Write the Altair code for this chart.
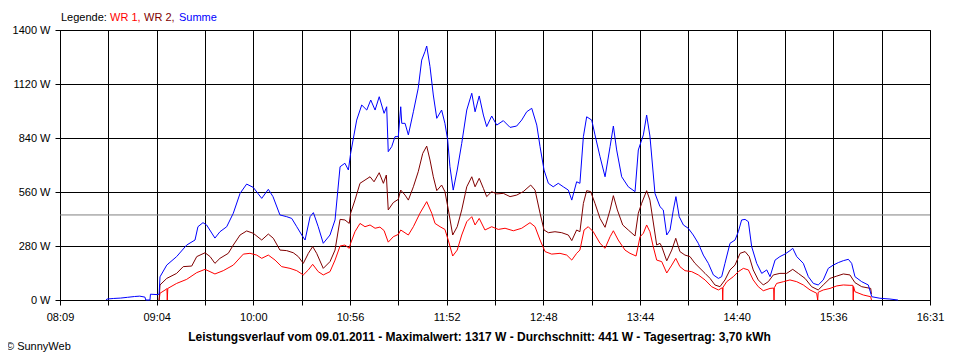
import altair as alt
import pandas as pd

# ---- data (time in minutes since midnight, power in W) ----
summe_t = [515.5, 516.1, 520, 524, 528, 532, 535, 538.0, 538.5, 540.9,
           541.2, 545.0, 546.2, 546.7, 550.6, 556.3, 562.1, 566.9, 568.6, 571.5,
           573.6, 578.4, 581.3, 585.2, 589.0, 592.9, 596.7, 600.5, 605.4, 609.2,
           611.9, 615.9, 619.8, 622.7, 625.6, 628.5, 630.4, 633.3, 635.2, 638.0,
           640.9, 644.8, 647.7, 650.6, 653.4, 655.4, 656.7, 660.2, 663.1, 666.0,
           668.3, 670.8, 673.2, 676.0, 677.5, 678.4, 680.4, 682.3, 684.2, 685.6,
           686.2, 688.1, 690.0, 692.9, 695.7, 697.7, 699.6, 700.6, 702.5, 704.4,
           706.4, 709.2, 711.1, 712.7, 714.0, 715.9, 718.2, 720.8, 723.7, 726.6,
           728.5, 730.9, 733.3, 735.2, 738.1, 741.0, 744.8, 748.7, 752.5, 755.4,
           758.3, 761.2, 764.1, 766.0, 768.3, 770.8, 773.6, 776.5, 779.4, 782.3,
           784.3, 787.1, 789.0, 791.0, 792.9, 795.8, 797.7, 800.6, 803.5, 806.4,
           808.3, 810.2, 813.1, 816.9, 820.8, 822.7, 825.6, 827.5, 829.4, 832.3,
           835.2, 837.1, 839.1, 841.0, 842.9, 844.4, 846.3, 848.7, 851.5, 854.4,
           857.3, 860.2, 863.1, 866.0, 868.9, 870.8, 872.7, 875.6, 878.5, 880.4,
           882.3, 884.3, 886.2, 888.1, 891.0, 893.9, 896.8, 898.7, 901.6, 904.4,
           907.3, 910.2, 911.8, 914.1, 917.9, 920.8, 923.7, 926.5, 929.4, 932.3,
           935.2, 938.1, 941.0, 943.9, 945.8, 947.7, 951.6, 955.4, 957.4, 962.1,
           967.9, 972.5]
summe_w = [0, 5, 8, 10, 14, 18, 20, 15, 0, 0,
           30, 28, 30, 120, 181, 225, 285, 311, 380, 401,
           389, 321, 354, 380, 450, 553, 601, 584, 527, 574,
           536, 441, 432, 423, 380, 337, 311, 432, 453, 380,
           294, 337, 415, 691, 709, 674, 760, 933, 1011, 985,
           1037, 985, 1054, 968, 1002, 769, 795, 847, 847, 1002,
           916, 916, 856, 976, 1098, 1244, 1288, 1317, 1210, 1063,
           942, 985, 916, 830, 691, 570, 674, 812, 985, 1072,
           976, 1058, 959, 899, 954, 907, 930, 895, 902, 933,
           976, 994, 907, 795, 674, 605, 587, 605, 587, 570,
           518, 613, 605, 847, 950, 933, 856, 743, 639, 795,
           902, 778, 639, 587, 562, 778, 856, 959, 850, 553,
           484, 467, 337, 363, 467, 536, 432, 389, 372, 337,
           294, 233, 190, 130, 112, 121, 190, 294, 311, 354,
           415, 418, 406, 277, 190, 138, 156, 121, 207, 225,
           238, 256, 268, 225, 190, 121, 86, 78, 104, 164,
           181, 194, 204, 211, 190, 121, 95, 78, 17, 9,
           5, 0]

wr2_t = [546.2, 546.7, 550.6, 556.3, 560.1, 565.0, 567.9, 572.7, 575.6, 578.4,
         581.3, 586.1, 589.0, 592.9, 596.7, 600.5, 605.4, 609.2, 612.1, 615.9,
         619.8, 623.6, 626.5, 629.4, 632.3, 634.8, 637.1, 640.9, 644.8, 647.7,
         650.6, 653.4, 655.9, 656.7, 659.2, 662.1, 665.0, 667.9, 670.2, 673.2,
         675.6, 677.3, 678.4, 681.3, 684.2, 685.6, 688.1, 690.0, 692.9, 695.7,
         698.3, 700.6, 702.5, 704.4, 706.4, 709.2, 711.1, 713.1, 715.6, 718.2,
         720.8, 723.7, 726.6, 728.5, 730.9, 733.3, 735.2, 738.1, 741.0, 744.8,
         748.7, 752.5, 756.3, 760.6, 763.1, 766.0, 768.3, 770.8, 774.6, 778.5,
         782.3, 784.3, 787.1, 789.0, 791.0, 792.9, 795.2, 797.7, 800.6, 803.5,
         806.4, 808.3, 810.6, 813.7, 816.9, 820.8, 822.7, 824.6, 827.5, 829.4,
         832.0, 833.3, 835.2, 836.2, 839.1, 842.0, 844.3, 846.7, 849.6, 852.5,
         855.4, 858.3, 861.2, 864.1, 866.9, 869.8, 872.7, 875.6, 878.5, 881.4,
         884.3, 886.7, 889.0, 891.9, 894.8, 897.7, 900.6, 904.4, 908.3, 911.8,
         915.0, 918.9, 922.7, 926.5, 929.4, 933.3, 937.2, 941.0, 944.8, 947.7,
         951.6, 956.8, 957.2]
wr2_w = [0, 78, 112, 138, 173, 176, 225, 245, 225, 190,
         216, 242, 285, 337, 358, 346, 311, 342, 320, 259,
         256, 245, 225, 190, 242, 277, 242, 164, 199, 259,
         418, 415, 397, 450, 518, 605, 622, 639, 613, 660,
         605, 648, 467, 505, 522, 570, 544, 518, 587, 665,
         760, 798, 726, 639, 567, 596, 562, 467, 337, 380,
         467, 587, 639, 587, 631, 579, 536, 562, 550, 553,
         536, 544, 562, 596, 570, 450, 363, 349, 354, 349,
         337, 308, 363, 354, 501, 567, 562, 501, 423, 377,
         467, 541, 467, 389, 363, 332, 450, 501, 567, 518,
         363, 285, 294, 277, 203, 259, 320, 251, 233, 225,
         190, 164, 138, 112, 78, 69, 104, 156, 181, 242,
         251, 225, 156, 104, 78, 95, 130, 138, 138, 159,
         138, 112, 69, 52, 78, 112, 124, 135, 130, 90,
         69, 60, 30]

wr1_t = [546.2, 546.7, 550.2, 550.7, 550.9, 551.2, 556.3, 562.1, 567.9, 572.7,
         578.4, 583.2, 589.0, 594.8, 598.6, 602.5, 605.4, 609.2, 613.1, 616.9,
         621.7, 625.6, 629.4, 632.3, 634.8, 638.0, 640.9, 644.8, 647.7, 650.6,
         653.4, 655.9, 656.7, 659.2, 662.1, 665.0, 667.9, 670.8, 673.6, 676.0,
         678.4, 681.3, 684.2, 685.6, 690.0, 692.9, 696.7, 700.6, 703.5, 705.4,
         708.3, 711.1, 713.0, 715.6, 718.2, 720.8, 723.7, 726.6, 728.5, 730.9,
         734.2, 738.1, 741.9, 745.8, 750.6, 755.4, 760.2, 763.1, 766.0, 768.9,
         772.7, 777.5, 781.4, 784.3, 787.1, 789.0, 791.4, 793.8, 796.7, 800.6,
         803.5, 806.4, 808.3, 811.1, 815.0, 817.9, 821.4, 823.7, 825.6, 827.5,
         829.4, 831.3, 833.3, 836.2, 839.1, 842.0, 844.3, 846.7, 849.6, 853.5,
         857.3, 861.2, 865.0, 868.9, 871.2, 871.4, 871.6, 873.7, 877.5, 880.4,
         883.3, 886.2, 889.0, 891.9, 894.8, 898.7, 900.8, 901.0, 901.2, 902.5,
         906.4, 910.2, 914.1, 917.9, 921.8, 925.6, 926.2, 926.5, 929.4, 933.3,
         937.2, 941.0, 944.8, 946.5, 946.7, 946.9, 947.7, 952.5, 956.8, 957.2]
wr1_w = [0, 35, 55, 60, 0, 60, 86, 107, 142, 159,
         135, 152, 181, 238, 242, 233, 216, 233, 207, 173,
         164, 152, 130, 156, 185, 147, 130, 147, 207, 280,
         285, 268, 294, 354, 397, 380, 389, 372, 378, 360,
         300, 328, 340, 363, 337, 380, 450, 510, 450, 397,
         380, 366, 311, 228, 259, 337, 406, 432, 389, 423,
         363, 380, 366, 372, 359, 372, 401, 380, 311, 251,
         238, 242, 233, 207, 242, 259, 363, 380, 354, 294,
         268, 328, 359, 311, 259, 242, 228, 328, 346, 389,
         354, 277, 207, 199, 140, 181, 216, 173, 152, 147,
         130, 104, 69, 52, 64, 0, 66, 95, 121, 147,
         164, 156, 104, 69, 48, 60, 62, 0, 64, 86,
         95, 104, 95, 78, 52, 35, 0, 40, 52, 60,
         73, 78, 76, 76, 0, 70, 43, 26, 17, 0]

series_names = ["WR 1", "WR 2", "Summe"]
series_colors = ["#ff0000", "#800000", "#0000ff"]
average_w = 441
x_start, x_end = 489, 991          # 08:09 .. 16:31
x_labels = ["08:09", "09:04", "10:00", "10:56", "11:52",
            "12:48", "13:44", "14:40", "15:36", "16:31"]
y_ticks = [0, 280, 560, 840, 1120, 1400]
title_text = ("Leistungsverlauf vom 09.01.2011 - Maximalwert: 1317 W - "
              "Durchschnitt: 441 W - Tagesertrag: 3,70 kWh")

FONT = "Liberation Sans"

frames = []
for name, ts, ws in [("WR 1", wr1_t, wr1_w), ("WR 2", wr2_t, wr2_w), ("Summe", summe_t, summe_w)]:
    frames.append(pd.DataFrame({"t": ts, "w": ws, "serie": name, "idx": range(len(ts))}))
df = pd.concat(frames, ignore_index=True)

n_int = 18
step = (x_end - x_start) / n_int
x_tick_values = [x_start + k * step for k in range(n_int + 1)]
arr = "[" + ",".join("'%s'" % s for s in x_labels) + "]"
label_expr = ("round((datum.value-%d)/%f) %% 2 == 0 ? %s[round((datum.value-%d)/%f)/2] : ''"
              % (x_start, step, arr, x_start, step))

x_enc = alt.X("t:Q", scale=alt.Scale(domain=[x_start, x_end], nice=False, zero=False),
              axis=alt.Axis(values=x_tick_values, labelExpr=label_expr, title=None,
                            grid=True, tickSize=5, labelPadding=6, labelFlush=False))
y_enc = alt.Y("w:Q", scale=alt.Scale(domain=[0, 1400], nice=False),
              axis=alt.Axis(values=y_ticks, labelExpr="datum.value + ' W'", title=None,
                            grid=True, tickSize=5, labelPadding=5))

lines = alt.Chart(df).mark_line(strokeWidth=1, interpolate="linear").encode(
    x=x_enc, y=y_enc,
    color=alt.Color("serie:N", scale=alt.Scale(domain=series_names, range=series_colors), legend=None),
    order="idx:Q",
)

avg = alt.Chart(pd.DataFrame({"w": [average_w]})).mark_rule(color="#808080", strokeWidth=1).encode(
    y=alt.Y("w:Q", scale=alt.Scale(domain=[0, 1400], nice=False))
)

one = pd.DataFrame({"a": [0]})

def txt(text, x, y, color="black", bold=False, align="left", size=11):
    return alt.Chart(one).mark_text(text=text, align=align, baseline="alphabetic",
                                    font=FONT, fontSize=size, color=color,
                                    fontWeight="bold" if bold else "normal").encode(
        x=alt.value(x), y=alt.value(y))

texts = [
    txt("Legende:", 1, -9),
    txt("WR 1,", 50, -9, color="#ff0000"),
    txt("WR 2,", 84, -9, color="#800000"),
    txt("Summe", 119, -9, color="#0000ff"),
    txt(title_text, 419.5, 311, bold=True, align="center", size=12),
    txt("\u00a9 SunnyWeb", -54, 320),
]

chart = alt.layer(avg, lines, *texts).properties(
    width=870, height=270,
    padding={"left": 52, "top": 22, "right": 20, "bottom": 58},
    autosize=alt.AutoSizeParams(type="none"),
).configure_axis(
    labelFont=FONT, labelFontSize=11, labelColor="black",
    gridColor="black", gridOpacity=1, gridWidth=1,
    domainColor="black", tickColor="black", domainWidth=1, tickWidth=1,
).configure_view(stroke="black", strokeWidth=1)

chart.save("out.html", embed_options={"renderer": "svg", "actions": False})
